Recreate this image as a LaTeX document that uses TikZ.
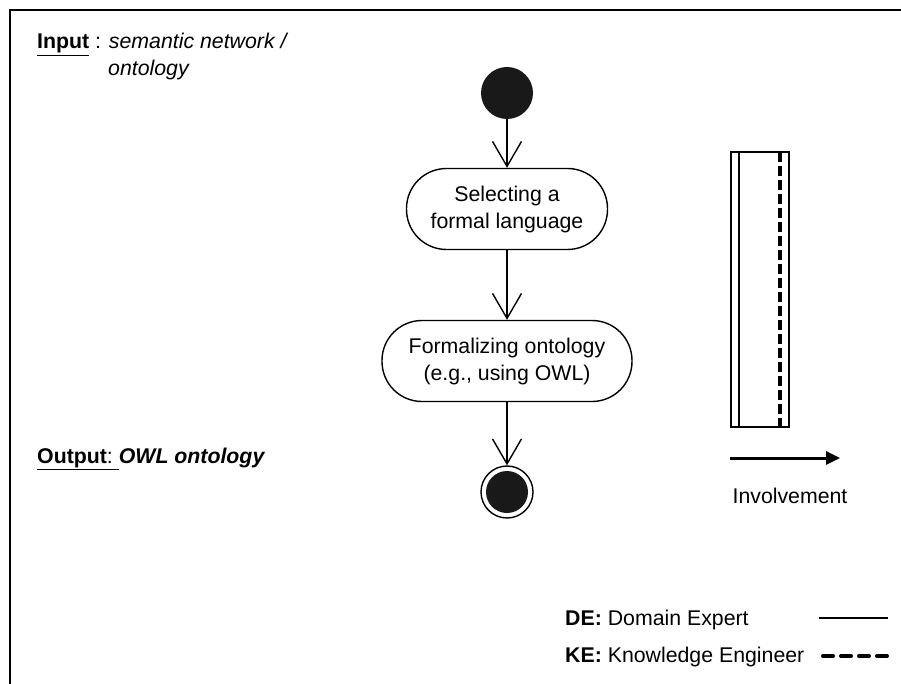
\documentclass[tikz,border=0pt]{standalone}
\usepackage{fontspec}
\setmainfont{Liberation Sans}
\usetikzlibrary{arrows.meta,positioning}

\begin{document}
\begin{tikzpicture}[
  x=1pt,y=-1pt,
  every node/.style={font=\fontsize{21.3}{27}\selectfont,inner sep=0},
  flow/.style={line width=1.4pt,-{Straight Barb[length=25pt,width=29pt,line width=1.4pt]}},
  act/.style={draw,line width=1.4pt,rounded corners=40pt,minimum height=81pt,align=center},
  initial/.style={circle,fill=black!90,minimum size=52pt},
  final/.style={circle,draw,line width=1.4pt,minimum size=52pt,
    path picture={\fill[black!90] (path picture bounding box.center) circle (21pt);}},
  kedash/.style={line width=4pt,dash pattern=on 10pt off 4pt},
]
  \useasboundingbox (0,0) rectangle (901,684);
  % frame (only top and left are visible)
  \draw[line width=2pt] (10,684) -- (10,10) -- (901,10);

  \node[anchor=base west] (input) at (37,49)
    {\underline{\textbf{Input}} : \textit{semantic network /}};
  \node[anchor=base west] (inputb) at (108,76) {\textit{ontology}};
  \node[anchor=base west] (output) at (37,463)
    {\underline{\textbf{Output}:\ }\textbf{\textit{OWL ontology}}};

  % activity flow
  \node[initial] (start) at (507,93) {};
  \node[act,minimum width=201pt] (sel) at (507,209) {Selecting a\\formal language};
  \node[act,minimum width=250pt] (form) at (507,361) {Formalizing ontology\\(e.g., using OWL)};
  \node[final] (stop) at (507,492) {};
  \draw[flow] (start) -- (sel);
  \draw[flow] (sel) -- (form);
  \draw[flow] (form) -- (stop);

  % involvement lane
  \draw[line width=1.2pt] (731,152) rectangle (789,427);
  \draw[line width=1.4pt] (739,152) -- (739,427);
  \draw[kedash] (780,152) -- (780,427);
  \coordinate (a0) at (730,458);
  \coordinate (a1) at (840,458);
  \draw[line width=3pt,-{Triangle[length=14pt,width=13pt]}] (a0) -- (a1);
  \node[anchor=base] (invol) at (790,503) {Involvement};

  % legend
  \node[anchor=base west] (de) at (565,625) {\textbf{DE:} Domain Expert};
  \node[anchor=base west] (ke) at (565,662) {\textbf{KE:} Knowledge Engineer};
  \draw[line width=1.4pt] (819,618) -- (888,618);
  \draw[line width=4pt,line cap=round,dash pattern=on 10pt off 8pt] (823,656) -- (887,656);
\end{tikzpicture}
\end{document}
